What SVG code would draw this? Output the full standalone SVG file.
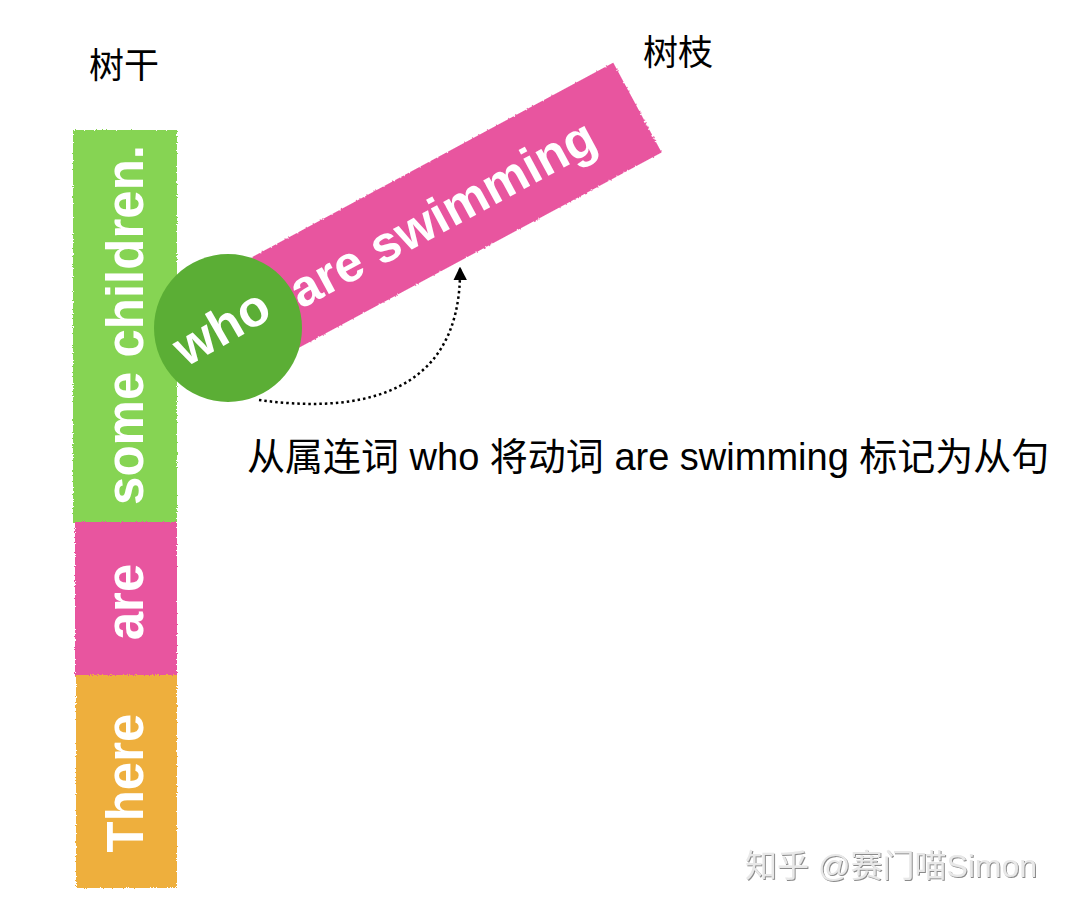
<svg xmlns="http://www.w3.org/2000/svg" width="1068" height="910" viewBox="0 0 1068 910">
<style>
.w{font-family:"Liberation Sans",Arial,sans-serif;font-weight:bold;font-size:51px;fill:#fff}
.lbl{font-family:"Liberation Sans","Noto Sans CJK SC",sans-serif;fill:#000}
.rough{filter:url(#rough)}
</style>
<defs>
<filter id="rough" x="-5%" y="-5%" width="110%" height="110%">
<feTurbulence type="fractalNoise" baseFrequency="0.9" numOctaves="2" seed="3"/>
<feDisplacementMap in="SourceGraphic" scale="3" xChannelSelector="R" yChannelSelector="G"/>
</filter>
<filter id="emb" x="-5%" y="-20%" width="110%" height="140%">
<feDropShadow dx="1" dy="1" stdDeviation="0.4" flood-color="#8a8a8a"/>
</filter>
<marker id="ah" viewBox="0 0 10 10" refX="9" refY="5" markerWidth="5.5" markerHeight="5.5" orient="auto">
<path d="M0,0 L10,5 L0,10 z" fill="#000"/>
</marker>
</defs>
<rect width="1068" height="910" fill="#fff"/>

<g id="label-trunk"><text class="lbl" x="124" y="78" font-size="35" text-anchor="middle">树干</text></g>
<g id="label-branch"><text class="lbl" x="678" y="65" font-size="35" text-anchor="middle">树枝</text></g>

<g id="trunk-some-children">
<rect class="rough" x="73" y="130" width="104" height="393" fill="#86D452"/>
<text class="w" transform="translate(143,325) rotate(-90)" text-anchor="middle">some children.</text>
</g>
<g id="trunk-are">
<rect class="rough" x="75" y="522" width="102" height="154" fill="#E8549F"/>
<text class="w" transform="translate(143,602) rotate(-90)" text-anchor="middle">are</text>
</g>
<g id="trunk-there">
<rect class="rough" x="76" y="675" width="101" height="213" fill="#EEAF3E"/>
<text class="w" transform="translate(143,783) rotate(-90)" text-anchor="middle">There</text>
</g>

<g id="branch-are-swimming" transform="translate(228,328) rotate(-28.3)">
<rect class="rough" x="0" y="-51" width="465" height="102" fill="#E8549F"/>
<text class="w" x="243" y="18" text-anchor="middle">are swimming</text>
</g>

<g id="node-who">
<circle cx="228" cy="328" r="74" fill="#5BAE35"/>
<text class="w" transform="translate(230,342) rotate(-30)" text-anchor="middle">who</text>
</g>

<g id="connectors">
<path d="M259,400 C345,412 462,404 460,268" fill="none" stroke="#000" stroke-width="2.5" stroke-dasharray="2.5 3" marker-end="url(#ah)"/>
</g>

<g id="caption"><text class="lbl" x="247" y="470" font-size="38">从属连词 who 将动词 are swimming 标记为从句</text></g>

<g id="watermark"><text x="745" y="877" font-family="'Liberation Sans','Noto Sans CJK SC',sans-serif" font-size="32" fill="#e8e8e8" filter="url(#emb)">知乎 @赛门喵Simon</text></g>
</svg>
